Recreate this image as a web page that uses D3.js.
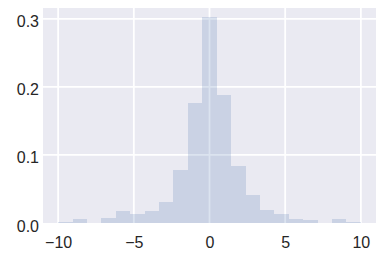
<!DOCTYPE html>
<html>
<head>
<meta charset="utf-8">
<script src="https://cdn.jsdelivr.net/npm/d3@7"></script>
<style>
  html, body { margin: 0; padding: 0; background: #fff; }
  svg { display: block; }
  .tick text { font-family: "Liberation Sans", Arial, sans-serif; font-size: 16px; fill: #262626; }
</style>
</head>
<body>
<div id="chart"></div>
<script>
// Histogramm (Dichte), Seaborn-darkgrid-Look
const binMin = -10, binMax = 10, binCount = 21;
const density = [0.002, 0.006, 0, 0.0078, 0.018, 0.0137, 0.018, 0.031, 0.078, 0.177,
                 0.303, 0.188, 0.084, 0.0416, 0.019, 0.0137, 0.006, 0.0044, 0, 0.006, 0.002];
const xTicks = [-10, -5, 0, 5, 10];
const yTicks = [0, 0.1, 0.2, 0.3];

const W = 384, H = 259;
const plot = { left: 43, right: 376, top: 8, bottom: 223 };

const svg = d3.select("#chart").append("svg").attr("width", W).attr("height", H);

const x = d3.scaleLinear().domain([-11, 11]).range([plot.left, plot.right]);
const y = d3.scaleLinear().domain([0, 0.316]).range([plot.bottom, plot.top]);

// Hintergrund
svg.append("rect")
  .attr("x", plot.left).attr("y", plot.top)
  .attr("width", plot.right - plot.left).attr("height", plot.bottom - plot.top)
  .attr("fill", "#EAEAF2");

// Gitter
const grid = svg.append("g").attr("stroke", "#fff").attr("stroke-width", 1.8);
grid.selectAll("line.gx").data(xTicks).join("line")
  .attr("x1", d => x(d)).attr("x2", d => x(d))
  .attr("y1", plot.top).attr("y2", plot.bottom);
grid.selectAll("line.gy").data(yTicks.filter(d => d > 0)).join("line")
  .attr("y1", d => y(d)).attr("y2", d => y(d))
  .attr("x1", plot.left).attr("x2", plot.right);

// Balken
const bw = (binMax - binMin) / binCount;
const bins = density.map((v, i) => ({ x0: binMin + i * bw, x1: binMin + (i + 1) * bw, v }));
svg.append("g").selectAll("rect").data(bins.filter(d => d.v > 0)).join("rect")
  .attr("x", d => x(d.x0))
  .attr("width", d => x(d.x1) - x(d.x0))
  .attr("y", d => y(d.v))
  .attr("height", d => y(0) - y(d.v))
  .attr("fill", "#4C72B0").attr("fill-opacity", 0.2)
  .attr("shape-rendering", "crispEdges");

// Achsen
const fmtX = d => (d < 0 ? "\u2212" + Math.abs(d) : String(d));
svg.append("g").attr("transform", `translate(0,${plot.bottom})`)
  .call(d3.axisBottom(x).tickValues(xTicks).tickFormat(fmtX).tickSize(0).tickPadding(14))
  .call(g => g.select(".domain").remove());
svg.append("g").attr("transform", `translate(${plot.left},0)`)
  .call(d3.axisLeft(y).tickValues(yTicks).tickFormat(d3.format(".1f")).tickSize(0).tickPadding(4))
  .call(g => g.select(".domain").remove())
  .call(g => g.selectAll(".tick text").attr("dy", "0.5em"));
</script>
</body>
</html>
